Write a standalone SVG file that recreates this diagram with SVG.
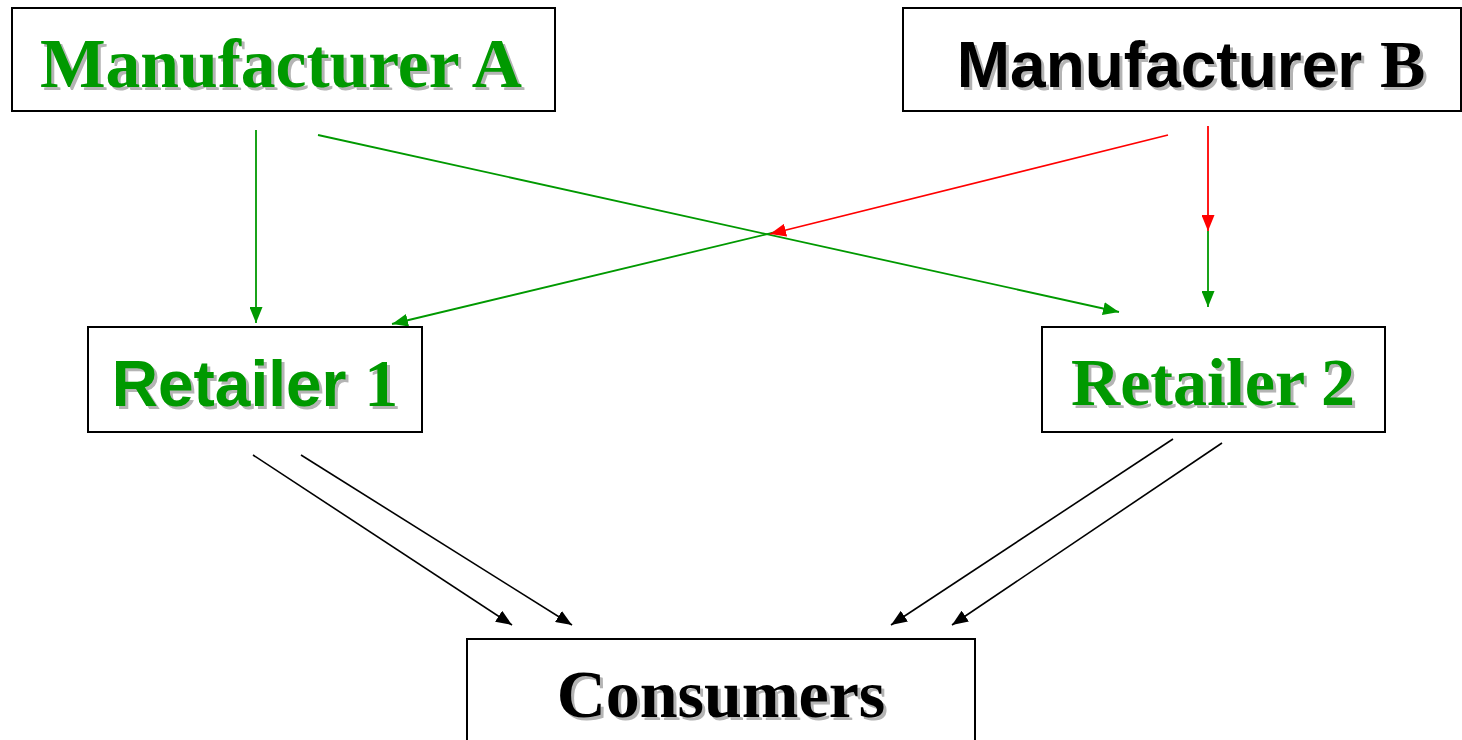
<svg xmlns="http://www.w3.org/2000/svg" width="1462" height="740" viewBox="0 0 1462 740">
<style>
.box{fill:#fff;stroke:#000;stroke-width:2}
.lbl{font-weight:bold;text-anchor:middle}
.serif{font-family:"Liberation Serif","Times New Roman",serif;font-size:68px}
.sans{font-family:"Liberation Sans",Arial,sans-serif;font-size:64px}
.g{fill:#009900}
.k{fill:#000}
.sh{fill:#b4b4b4}
.cg{stroke:#009900;stroke-width:1.8;fill:none}
.cr{stroke:#ff0000;stroke-width:1.8;fill:none}
.ck{stroke:#000;stroke-width:1.6;fill:none}
</style>
<defs>
<marker id="ag" viewBox="0 0 16 13" refX="16" refY="6.5" markerWidth="16" markerHeight="13" markerUnits="userSpaceOnUse" orient="auto"><path d="M0,0 L16,6.5 L0,13 z" fill="#009900"/></marker>
<marker id="ar" viewBox="0 0 16 13" refX="16" refY="6.5" markerWidth="16" markerHeight="13" markerUnits="userSpaceOnUse" orient="auto"><path d="M0,0 L16,6.5 L0,13 z" fill="#ff0000"/></marker>
<marker id="ak" viewBox="0 0 16 13" refX="16" refY="6.5" markerWidth="16" markerHeight="13" markerUnits="userSpaceOnUse" orient="auto"><path d="M0,0 L16,6.5 L0,13 z" fill="#000"/></marker>
</defs>
<rect width="1462" height="740" fill="#fff"/>
<g id="connectors">
<line class="cg" x1="256" y1="130" x2="256" y2="323" marker-end="url(#ag)"/>
<line class="cg" x1="318" y1="135" x2="1119" y2="312" marker-end="url(#ag)"/>
<line class="cg" x1="776" y1="232" x2="392" y2="324" marker-end="url(#ag)"/>
<line class="cr" x1="1168" y1="135" x2="770" y2="234" marker-end="url(#ar)"/>
<line class="cr" x1="1208" y1="126" x2="1208" y2="231" marker-end="url(#ar)"/>
<line class="cg" x1="1208" y1="231" x2="1208" y2="307" marker-end="url(#ag)"/>
<line class="ck" x1="253" y1="455" x2="512" y2="625" marker-end="url(#ak)"/>
<line class="ck" x1="301" y1="455" x2="572" y2="625" marker-end="url(#ak)"/>
<line class="ck" x1="1173" y1="439" x2="891" y2="625" marker-end="url(#ak)"/>
<line class="ck" x1="1222" y1="443" x2="952" y2="625" marker-end="url(#ak)"/>
</g>
<g id="manufacturer-a">
<rect class="box" x="12" y="8" width="543" height="103"/>
<text class="lbl serif sh" x="284" y="90" style="font-size:69.5px">Manufacturer A</text>
<text class="lbl serif g" x="281" y="87" style="font-size:69.5px">Manufacturer A</text>
</g>
<g id="manufacturer-b">
<rect class="box" x="903" y="8" width="558" height="103"/>
<text class="lbl sh" x="1194" y="90"><tspan class="sans">Manufacturer </tspan><tspan class="serif">B</tspan></text>
<text class="lbl k" x="1191" y="87"><tspan class="sans">Manufacturer </tspan><tspan class="serif">B</tspan></text>
</g>
<g id="retailer-1">
<rect class="box" x="88" y="327" width="334" height="105"/>
<text class="lbl sh" x="258" y="409"><tspan class="sans">Retailer </tspan><tspan class="serif">1</tspan></text>
<text class="lbl g" x="255" y="406"><tspan class="sans">Retailer </tspan><tspan class="serif">1</tspan></text>
</g>
<g id="retailer-2">
<rect class="box" x="1042" y="327" width="343" height="105"/>
<text class="lbl serif sh" x="1216" y="408">Retailer 2</text>
<text class="lbl serif g" x="1213" y="405">Retailer 2</text>
</g>
<g id="consumers">
<rect class="box" x="467" y="639" width="508" height="110"/>
<text class="lbl serif sh" x="724" y="720">Consumers</text>
<text class="lbl serif k" x="721" y="717">Consumers</text>
</g>
</svg>
